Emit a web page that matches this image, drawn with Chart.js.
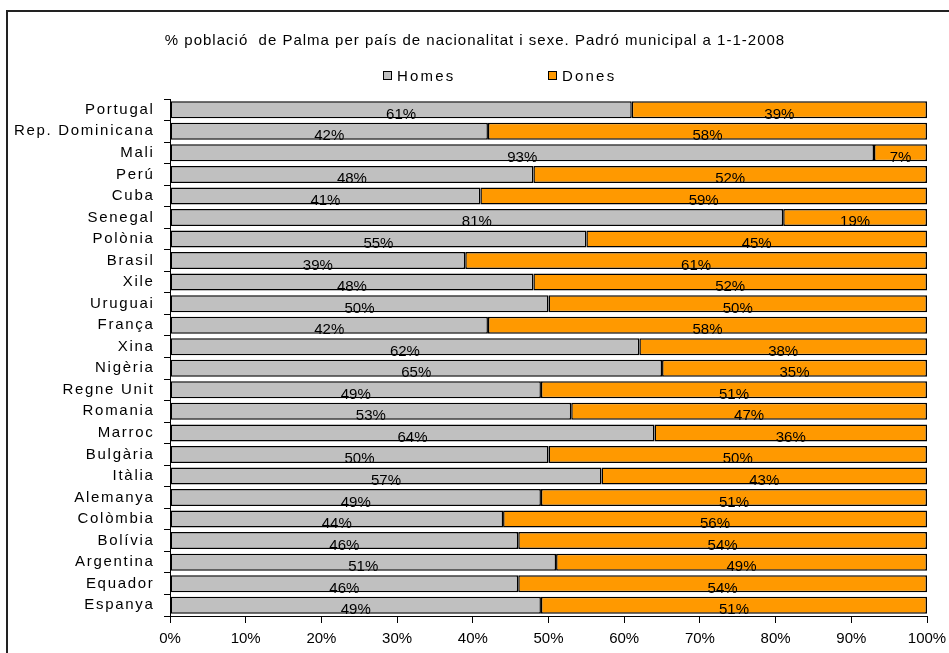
<!DOCTYPE html>
<html>
<head>
<meta charset="utf-8">
<script src="https://cdn.jsdelivr.net/npm/chart.js@4/dist/chart.umd.min.js"></script>
<style>
  html, body { margin: 0; padding: 0; background: #fff; }
  #wrap { position: relative; width: 949px; height: 653px; overflow: hidden; }
  #frame { position: absolute; left: 6px; top: 10px; width: 941px; height: 700px;
    border-top: 2px solid #222; border-left: 2px solid #222; border-right: 1px solid #999; }
  #legend { position: absolute; top: 67px; left: 0; width: 949px; height: 18px;
    font: 15px "Liberation Sans", Arial, sans-serif; color: #000; }
  .item { position: absolute; top: 0; line-height: 18px; letter-spacing: 2.2px; }
  .box { display: inline-block; width: 7px; height: 7px; border: 1.5px solid #000;
    margin-right: 5px; vertical-align: 1px; }
  canvas { position: absolute; left: 0; top: 0; }
</style>
</head>
<body>
<div id="wrap">
  <div id="frame"></div>
  <canvas id="chart" width="949" height="653"></canvas>
  <div id="legend">
    <span class="item" style="left:383px"><span class="box" style="background:#c0c0c0"></span>Homes</span>
    <span class="item" style="left:548px"><span class="box" style="background:#ff9900"></span>Dones</span>
  </div>
</div>
<script>
const countries = ['Portugal', 'Rep. Dominicana', 'Mali', 'Perú', 'Cuba', 'Senegal', 'Polònia', 'Brasil',
  'Xile', 'Uruguai', 'França', 'Xina', 'Nigèria', 'Regne Unit', 'Romania', 'Marroc', 'Bulgària',
  'Itàlia', 'Alemanya', 'Colòmbia', 'Bolívia', 'Argentina', 'Equador', 'Espanya'];
const homes = [61, 42, 93, 48, 41, 81, 55, 39, 48, 50, 42, 62, 65, 49, 53, 64, 50, 57, 49, 44, 46, 51, 46, 49];
const dones = [39, 58, 7, 52, 59, 19, 45, 61, 52, 50, 58, 38, 35, 51, 47, 36, 50, 43, 51, 56, 54, 49, 54, 51];
const xTicks = [0, 10, 20, 30, 40, 50, 60, 70, 80, 90, 100];

const FONT = { family: '"Liberation Sans", Arial, sans-serif', size: 15 };

// Excel spaces its letters out a bit; mimic that on the title and the country names
function spaced(obj, fn, spacing, dx) {
  const orig = obj[fn];
  obj[fn] = function (...args) {
    const ctx = this.ctx;
    ctx.save();
    ctx.letterSpacing = spacing;
    ctx.translate(dx, 0);
    orig.apply(this, args);
    ctx.restore();
  };
}

const letterSpacing = {
  id: 'letterSpacing',
  afterLayout(chart) {
    if (chart._spacedDone) return;
    chart._spacedDone = true;
    spaced(chart.scales.y, 'drawLabels', '1.7px', -0.5);
    spaced(chart.titleBlock, 'draw', '1px', 9);
  }
};

// draws the % value in the middle of each segment
const segLabels = {
  id: 'segLabels',
  afterDatasetsDraw(chart) {
    const ctx = chart.ctx;
    ctx.save();
    ctx.font = '15px "Liberation Sans", Arial, sans-serif';
    ctx.fillStyle = '#000';
    ctx.textAlign = 'center';
    ctx.textBaseline = 'alphabetic';
    chart.data.datasets.forEach((ds, di) => {
      chart.getDatasetMeta(di).data.forEach((el, i) => {
        const cx = (el.x + el.base) / 2;
        const cy = el.y + el.height / 2 + 0.5;
        ctx.fillText(ds.data[i] + '%', cx, cy);
      });
    });
    ctx.restore();
  }
};

new Chart(document.getElementById('chart'), {
  type: 'bar',
  data: {
    labels: countries,
    datasets: [
      { label: 'Homes', data: homes, backgroundColor: '#c0c0c0', borderColor: '#000', borderWidth: 1.5, borderSkipped: false },
      { label: 'Dones', data: dones, backgroundColor: '#ff9900', borderColor: '#000', borderWidth: 1.5, borderSkipped: false }
    ]
  },
  options: {
    indexAxis: 'y',
    responsive: false,
    animation: false,
    layout: { padding: { left: 5, right: 22, top: 0, bottom: 0 } },
    datasets: { bar: { categoryPercentage: 1, barPercentage: 0.79 } },
    plugins: {
      legend: { display: false },
      tooltip: { enabled: false },
      title: {
        display: true,
        text: '% població  de Palma per país de nacionalitat i sexe. Padró municipal a 1-1-2008',
        color: '#000',
        font: { ...FONT, weight: 'normal' },
        padding: { top: 32, bottom: 49 }
      }
    },
    scales: {
      y: {
        stacked: true,
        afterFit: s => { s.width = 165; },
        ticks: { color: '#000', font: FONT, padding: 9, autoSkip: false },
        grid: { drawOnChartArea: false, tickLength: 6, color: '#000', offset: true },
        border: { color: '#000', width: 1 }
      },
      x: {
        stacked: true,
        min: 0,
        max: 100,
        afterFit: s => { s.height = 37; s.paddingRight = 0; s.paddingLeft = 0; },
        afterBuildTicks: s => { s.ticks = xTicks.map(v => ({ value: v })); },
        ticks: { color: '#000', font: FONT, padding: 7, callback: v => v + '%', maxRotation: 0 },
        grid: { drawOnChartArea: false, tickLength: 7, color: '#000' },
        border: { color: '#000', width: 1 }
      }
    }
  },
  plugins: [letterSpacing, segLabels]
});
</script>
</body>
</html>
